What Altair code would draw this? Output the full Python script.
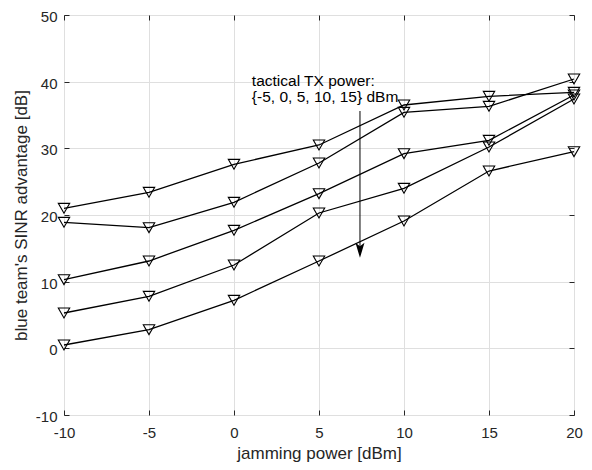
import altair as alt
import pandas as pd

jam = [-10, -5, 0, 5, 10, 15, 20]
tx_m5 = [21.0, 23.4, 27.6, 30.5, 36.5, 37.8, 38.4]
tx_0 = [18.9, 18.1, 21.9, 27.8, 35.4, 36.3, 40.4]
tx_5 = [10.3, 13.1, 17.7, 23.2, 29.2, 31.2, 38.0]
tx_10 = [5.3, 7.8, 12.5, 20.3, 24.0, 30.2, 37.4]
tx_15 = [0.5, 2.8, 7.2, 13.1, 19.1, 26.6, 29.5]
series_names = ["-5", "0", "5", "10", "15"]
x_ticks = [-10, -5, 0, 5, 10, 15, 20]
y_ticks = [-10, 0, 10, 20, 30, 40, 50]

ann_text = "tactical TX power:\n{-5, 0, 5, 10, 15} dBm"
ann_x, ann_y = 1.05, 39.3
arrow_x, arrow_y1, arrow_y2, head_y = 7.41, 35.6, 14.6, 14.7

rows = []
for name, vals in zip(series_names, [tx_m5, tx_0, tx_5, tx_10, tx_15]):
    for xv, yv in zip(jam, vals):
        rows.append({"jam": xv, "adv": yv, "tx": name})
df = pd.DataFrame(rows)

FONT = "Liberation Sans"
TXT = "#262626"
GRID = "#dfdfdf"
LABEL_EXPR = "'' + datum.value"

xs = alt.Scale(domain=[-10, 20], nice=False, zero=False)
ys = alt.Scale(domain=[-10, 50], nice=False, zero=False)

x_bottom = alt.Axis(values=x_ticks, grid=True, gridColor=GRID, domain=False,
                    offset=-5, tickSize=5, tickColor=TXT, labelPadding=10,
                    labelExpr=LABEL_EXPR, labelFlush=False,
                    labelFont=FONT, labelFontSize=15, labelColor=TXT,
                    title="jamming power [dBm]", titleFont=FONT, titleFontSize=17,
                    titleFontWeight="normal", titleColor=TXT, titlePadding=5)
y_left = alt.Axis(values=y_ticks, grid=True, gridColor=GRID, domain=False,
                  offset=-5, tickSize=5, tickColor=TXT, labelPadding=7,
                  labelOffset=1.5, labelExpr=LABEL_EXPR, labelFlush=False,
                  labelFont=FONT, labelFontSize=15, labelColor=TXT,
                  title="blue team's SINR advantage [dB]", titleFont=FONT,
                  titleFontSize=17, titleFontWeight="normal", titleColor=TXT,
                  titlePadding=5)
x_top = alt.Axis(orient="top", values=x_ticks, grid=False, domain=False,
                 offset=-5, tickSize=5, tickColor=TXT, labels=False, title=None)
y_right = alt.Axis(orient="right", values=y_ticks, grid=False, domain=False,
                   offset=-5, tickSize=5, tickColor=TXT, labels=False, title=None)

base = alt.Chart(df)
lines = base.mark_line(color="black", strokeWidth=1.3).encode(
    x=alt.X("jam:Q", scale=xs, axis=x_bottom),
    y=alt.Y("adv:Q", scale=ys, axis=y_left),
    detail="tx:N",
)
points = base.mark_point(shape="triangle-down", filled=False, color="black",
                         size=130, strokeWidth=1.1, opacity=1).encode(
    x=alt.X("jam:Q", scale=xs, axis=None),
    y=alt.Y("adv:Q", scale=ys, axis=None),
)
axes2 = base.mark_point(opacity=0).encode(
    x=alt.X("jam:Q", scale=xs, axis=x_top),
    y=alt.Y("adv:Q", scale=ys, axis=y_right),
)

ann_df = pd.DataFrame({"x": [ann_x], "y": [ann_y], "t": [ann_text]})
text = alt.Chart(ann_df).mark_text(align="left", baseline="alphabetic", font=FONT,
                                   fontSize=15.5, lineHeight=16, lineBreak="\n",
                                   color="black").encode(
    x=alt.X("x:Q", scale=xs, axis=None),
    y=alt.Y("y:Q", scale=ys, axis=None),
    text="t:N",
)

arr_df = pd.DataFrame({"x": [arrow_x], "y1": [arrow_y1], "y2": [arrow_y2], "hy": [head_y]})
rule = alt.Chart(arr_df).mark_rule(color="black", strokeWidth=1).encode(
    x=alt.X("x:Q", scale=xs, axis=None),
    y=alt.Y("y1:Q", scale=ys, axis=None),
    y2="y2:Q",
)
head = alt.Chart(arr_df).mark_point(shape="M0,1L-0.6,-1L0,-0.55L0.6,-1Z", filled=True,
                                    color="black", size=225, opacity=1).encode(
    x=alt.X("x:Q", scale=xs, axis=None),
    y=alt.Y("hy:Q", scale=ys, axis=None),
)

chart = alt.layer(lines, points, axes2, text, rule, head).resolve_axis(
    x="independent", y="independent"
).properties(
    width=510, height=400,
    autosize=alt.AutoSizeParams(type="none"),
    padding={"left": 56, "top": 7, "right": 10, "bottom": 52},
    background="white",
).configure_view(stroke=TXT, strokeWidth=1)

chart.save("out.html", embed_options={"renderer": "svg", "actions": False})
